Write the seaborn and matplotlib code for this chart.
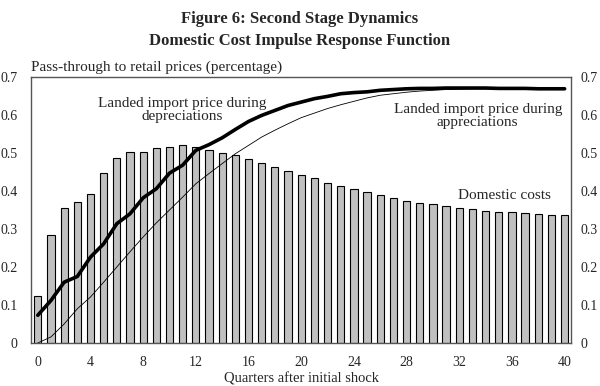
import numpy as np
import pandas as pd
import seaborn as sns
import matplotlib
matplotlib.use('Agg')
import matplotlib.pyplot as plt

quarters = list(range(41))
domestic_costs = [0.123, 0.285, 0.354, 0.372, 0.391, 0.448, 0.486, 0.503, 0.503, 0.512,
                  0.517, 0.522, 0.517, 0.507, 0.500, 0.494, 0.484, 0.474, 0.462, 0.453,
                  0.443, 0.434, 0.422, 0.414, 0.406, 0.397, 0.389, 0.382, 0.374, 0.369,
                  0.365, 0.361, 0.356, 0.353, 0.348, 0.346, 0.344, 0.341, 0.339, 0.337,
                  0.337]
depreciations = [0.073, 0.112, 0.160, 0.175, 0.226, 0.261, 0.314, 0.340, 0.382, 0.406,
                 0.447, 0.468, 0.507, 0.522, 0.540, 0.562, 0.583, 0.599, 0.612, 0.625,
                 0.634, 0.643, 0.649, 0.656, 0.659, 0.661, 0.665, 0.667, 0.669, 0.670,
                 0.670, 0.671, 0.671, 0.671, 0.671, 0.670, 0.670, 0.670, 0.669, 0.669,
                 0.669]
appreciations = [0.000, 0.016, 0.050, 0.090, 0.121, 0.160, 0.200, 0.240, 0.279, 0.316,
                 0.350, 0.384, 0.419, 0.446, 0.472, 0.498, 0.520, 0.542, 0.560, 0.577,
                 0.593, 0.605, 0.617, 0.627, 0.636, 0.645, 0.652, 0.656, 0.660, 0.663,
                 0.665, 0.667, 0.668, 0.669, 0.669, 0.669, 0.669, 0.669, 0.669, 0.669,
                 0.669]
xticks = list(range(0, 41, 4))
yticks = [0, 0.1, 0.2, 0.3, 0.4, 0.5, 0.6, 0.7]

df = pd.DataFrame({'q': quarters, 'dom': domestic_costs,
                   'dep': depreciations, 'app': appreciations})

sns.set_style('white')
plt.rcParams['font.family'] = ['Liberation Serif', 'DejaVu Serif']

fig = plt.figure(figsize=(6, 3.86), dpi=100)
ax = fig.add_axes([0.052, 0.1114, 0.9, 0.6891])

sns.barplot(data=df, x='q', y='dom', native_scale=True, width=0.55,
            color='#c0c0c0', edgecolor='black', linewidth=0.8, saturation=1, ax=ax)
sns.lineplot(data=df, x='q', y='app', color='black', linewidth=0.6, ax=ax)
sns.lineplot(data=df, x='q', y='dep', color='black', linewidth=2.6, ax=ax)

ax.set_xlim(-0.5, 40.5)
ax.set_ylim(0, 0.7)
ax.set_xticks(xticks)
ax.set_yticks(yticks)
ax.set_yticklabels(['0' if v == 0 else f'{v:.1f}' for v in yticks])
ax.tick_params(axis='y', labelsize=10, length=0, pad=10)
ax.tick_params(axis='x', labelsize=10, length=0, pad=9.5)
ax.set_xlabel('Quarters after initial shock', fontsize=10.5, labelpad=2)
ax.set_ylabel('')
for s in ax.spines.values():
    s.set_color('#555555')
    s.set_linewidth(1.0)

ax2 = ax.twinx()
ax2.set_ylim(0, 0.7)
ax2.set_yticks(yticks)
ax2.set_yticklabels(['0' if v == 0 else f'{v:.1f}' for v in yticks])
ax2.tick_params(axis='y', labelsize=10, length=0, pad=7)
for s in ax2.spines.values():
    s.set_visible(False)

ax.text(0.0, 1.01, 'Pass-through to retail prices (percentage)', transform=ax.transAxes,
        fontsize=11, ha='left', va='bottom')
ax.text(11.0, 0.613, 'Landed import price during\ndepreciations', fontsize=11,
        ha='center', va='center', linespacing=1.0)
ax.text(33.4, 0.597, 'Landed import price during\nappreciations', fontsize=11,
        ha='center', va='center', linespacing=1.0)
ax.text(35.4, 0.389, 'Domestic costs', fontsize=11, ha='center', va='center')

fig.text(0.5, 0.952, 'Figure 6: Second Stage Dynamics', fontsize=12,
         fontweight='bold', ha='center', va='center')
fig.text(0.5, 0.893, 'Domestic Cost Impulse Response Function', fontsize=12,
         fontweight='bold', ha='center', va='center')

fig.savefig('out.png', dpi=100)
